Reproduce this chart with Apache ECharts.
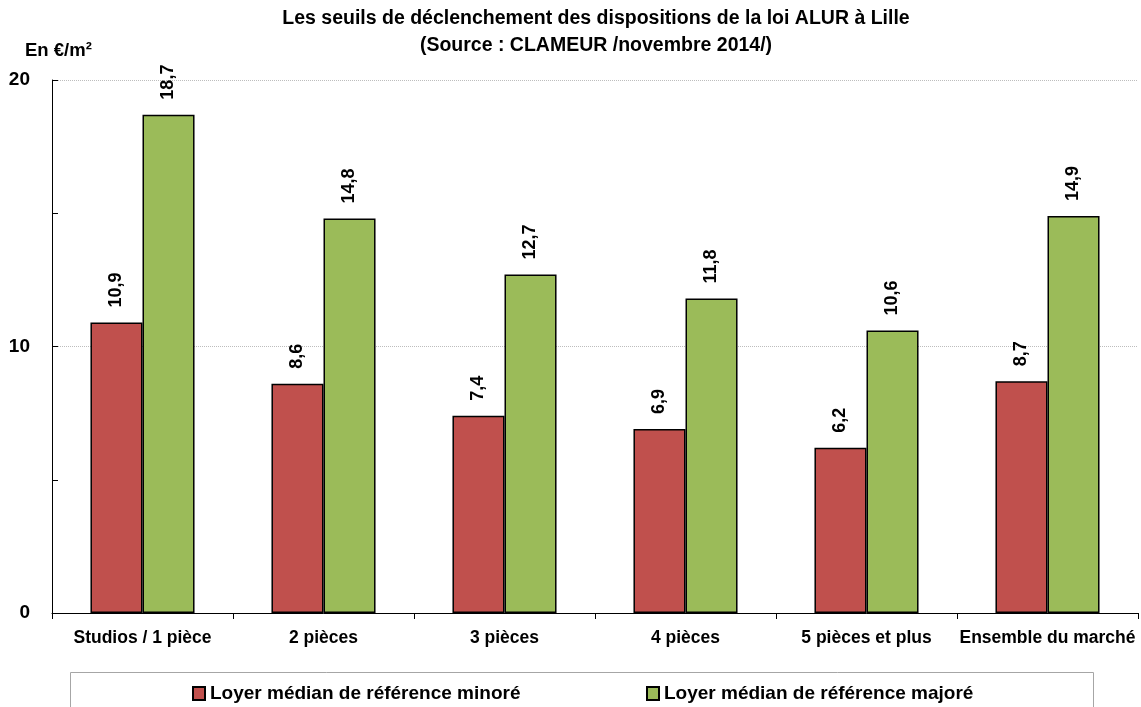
<!DOCTYPE html>
<html>
<head>
<meta charset="utf-8">
<script src="https://cdn.jsdelivr.net/npm/echarts@6/dist/echarts.min.js"></script>
<style>html,body{margin:0;padding:0;background:#fff}#c{width:1141px;height:707px}</style>
</head>
<body>
<div id="c"></div>
<script>
const categories = ['Studios / 1 pièce', '2 pièces', '3 pièces', '4 pièces', '5 pièces et plus', 'Ensemble du marché'];
const minore = [10.9, 8.6, 7.4, 6.9, 6.2, 8.7];
const majore = [18.7, 14.8, 12.7, 11.8, 10.6, 14.9];
const seriesNames = ['Loyer médian de référence minoré', 'Loyer médian de référence majoré'];
const titleText = 'Les seuils de déclenchement des dispositions de la loi ALUR à Lille\n(Source : CLAMEUR /novembre 2014/)';
const unitText = 'En €/m²';

const FONT = "'Liberation Sans Narrow', 'Arial Narrow', 'Liberation Sans', Arial, sans-serif";
const chart = echarts.init(document.getElementById('c'), null, {renderer: 'canvas'});
const fmt = p => String(p.value).replace('.', ',');
const labelCfg = {
  show: true, position: 'top', rotate: 90, align: 'left', verticalAlign: 'middle',
  distance: 15, formatter: fmt, color: '#000', fontFamily: FONT, fontWeight: 'bold', fontSize: 18
};
chart.setOption({
  animation: false,
  graphic: [
    {type: 'text', x: 596, y: 5, style: {text: titleText, textAlign: 'center', fill: '#000',
      font: "bold 19.5px " + FONT, lineHeight: 27}},
    {type: 'text', x: 25, y: 41, style: {text: unitText, fill: '#000', font: "bold 18.5px " + FONT}},
    {type: 'rect', shape: {x: 70.5, y: 672.5, width: 1023, height: 60},
      style: {fill: 'none', stroke: '#a6a6a6', lineWidth: 1}}
  ],
  legend: [
    {data: [seriesNames[0]], left: 192, top: 684, padding: 0, itemWidth: 12, itemHeight: 13, itemGap: 5,
      icon: 'rect', textStyle: {fontFamily: FONT, fontWeight: 'bold', fontSize: 19, color: '#000'}},
    {data: [seriesNames[1]], left: 646, top: 684, padding: 0, itemWidth: 12, itemHeight: 13, itemGap: 5,
      icon: 'rect', textStyle: {fontFamily: FONT, fontWeight: 'bold', fontSize: 19, color: '#000'}}
  ],
  grid: {left: 52, right: 3, top: 80, bottom: 94, containLabel: false},
  xAxis: {
    type: 'category', data: categories,
    axisLine: {lineStyle: {color: '#000', width: 1}},
    axisTick: {show: true, length: 6, lineStyle: {color: '#000'}},
    axisLabel: {margin: 16, interval: 0, color: '#000', fontFamily: FONT, fontWeight: 'bold', fontSize: 17.5}
  },
  yAxis: {
    type: 'value', min: 0, max: 20, interval: 10,
    axisLine: {show: true, lineStyle: {color: '#000', width: 1}},
    axisTick: {show: true, inside: true, length: 6, lineStyle: {color: '#000'}},
    minorTick: {show: true, splitNumber: 2, length: 6, lineStyle: {color: '#000'}},
    splitLine: {show: true, lineStyle: {color: '#bdbdbd', type: 'dotted', width: 1}},
    axisLabel: {margin: 22, color: '#000', fontFamily: FONT, fontWeight: 'bold', fontSize: 19}
  },
  series: [
    {name: seriesNames[0], type: 'bar', data: minore, barGap: '0%', barCategoryGap: '42.5%',
      itemStyle: {color: '#C0504D', borderColor: '#000', borderWidth: 1.5}, label: labelCfg},
    {name: seriesNames[1], type: 'bar', data: majore, barGap: '0%', barCategoryGap: '42.5%',
      itemStyle: {color: '#9BBB59', borderColor: '#000', borderWidth: 1.5}, label: labelCfg}
  ]
});
</script>
</body>
</html>
